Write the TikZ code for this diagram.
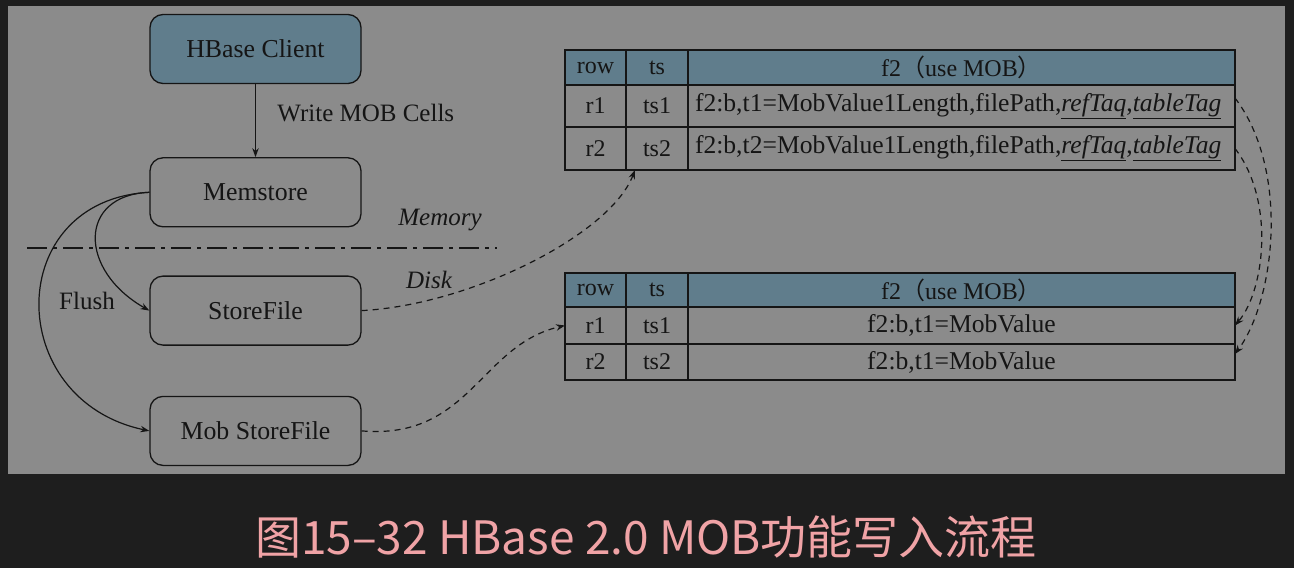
\documentclass[tikz,border=0pt]{standalone}
\usepackage{fontspec}
\setmainfont{Liberation Serif}
\newfontfamily\cjk{Noto Sans CJK SC}
\usetikzlibrary{positioning,arrows.meta}
\definecolor{pagebg}{HTML}{1E1E1E}
\definecolor{panel}{HTML}{8B8B8B}
\definecolor{hdblue}{HTML}{607D8C}
\definecolor{ink}{HTML}{151515}
\definecolor{capink}{HTML}{F0A3A6}

\begin{document}
\begin{tikzpicture}[x=1pt, y=-1pt, node distance=48pt,
      >={Stealth[length=9pt,width=6.5pt]},
      box/.style={rectangle, draw=ink, line width=1.3pt, rounded corners=13pt,
                  minimum width=211pt, minimum height=69pt, align=center,
                  text=ink, font=\fontsize{25.8}{28}\selectfont},
      cell/.style={rectangle, draw=ink, line width=1.3pt, inner sep=0pt,
                  outer sep=0pt, text=ink, font=\fontsize{24}{27}\selectfont},
      hd/.style={cell, fill=hdblue},
      val/.style={cell, minimum width=547pt, font=\fontsize{25.6}{28}\selectfont},
      colrow/.style={minimum width=61pt},
      colts/.style={minimum width=62pt},
      note/.style={text=ink, font=\fontsize{25}{28}\selectfont},
      flow/.style={->, draw=ink, line width=1.2pt},
      ref/.style={->, draw=ink, line width=1.2pt, dash pattern=on 6pt off 5pt}]
    \fill[pagebg] (0,0) rectangle (1294,568);
    \fill[panel] (8,6) rectangle (1285,474);

    \node[box, fill=hdblue] (client) at (255.5,49) {HBase Client};
    \node[box, below=73pt of client] (memstore) {Memstore};
    \node[box, below=of memstore] (storefile) {StoreFile};
    \node[box, below=50pt of storefile] (mobfile) {Mob StoreFile};

    \draw[flow] (client) -- node[note, right=18pt, yshift=8pt] {Write MOB Cells} (memstore);
    \draw[flow] (memstore.west) .. controls (78,195) and (78,270) .. (storefile.west);
    \draw[flow] (memstore.west) .. controls (3,200) and (3,400) .. (mobfile.west);
    \node[note] (flush) at (87,301) {Flush};

    \draw[ink, line width=1.2pt, dash pattern=on 20pt off 6pt on 4pt off 6pt]
      (27,248) -- (497,248);
    \node[note, font=\fontsize{25}{28}\selectfont\itshape] (memory) at (440,220) {Memory};
    \node[note, font=\fontsize{25}{28}\selectfont\itshape] (disk) at (429,280) {Disk};

    \node[hd, colrow, minimum height=35pt, anchor=north west] (ta-row) at (565,50) {row};
    \node[hd, colts, minimum height=35pt, right=0pt of ta-row] (ta-ts) {ts};
    \node[hd, minimum width=547pt, minimum height=35pt, right=0pt of ta-ts] (ta-f2)
      {f2{\cjk （}use MOB{\cjk ）}};
    \node[cell, colrow, minimum height=42pt, below=0pt of ta-row] (ta-r1) {r1};
    \node[cell, colts, minimum height=42pt, below=0pt of ta-ts] (ta-ts1) {ts1};
    \node[val, minimum height=42pt, text width=533pt, align=left,
          below=0pt of ta-f2] (ta-v1)
      {f2:b,t1=MobValue1Length,filePath,\underline{\textit{refTaq}},\underline{\textit{tableTag}}};
    \node[cell, colrow, minimum height=43pt, below=0pt of ta-r1] (ta-r2) {r2};
    \node[cell, colts, minimum height=43pt, below=0pt of ta-ts1] (ta-ts2) {ts2};
    \node[val, minimum height=43pt, text width=533pt, align=left,
          below=0pt of ta-v1] (ta-v2)
      {f2:b,t2=MobValue1Length,filePath,\underline{\textit{refTaq}},\underline{\textit{tableTag}}};

    \node[hd, colrow, minimum height=34pt, anchor=north west] (tb-row) at (565,273) {row};
    \node[hd, colts, minimum height=34pt, right=0pt of tb-row] (tb-ts) {ts};
    \node[hd, minimum width=547pt, minimum height=34pt, right=0pt of tb-ts] (tb-f2)
      {f2{\cjk （}use MOB{\cjk ）}};
    \node[cell, colrow, minimum height=37pt, below=0pt of tb-row] (tb-r1) {r1};
    \node[cell, colts, minimum height=37pt, below=0pt of tb-ts] (tb-ts1) {ts1};
    \node[val, minimum height=37pt, below=0pt of tb-f2] (tb-v1) {f2:b,t1=MobValue};
    \node[cell, colrow, minimum height=36pt, below=0pt of tb-r1] (tb-r2) {r2};
    \node[cell, colts, minimum height=36pt, below=0pt of tb-ts1] (tb-ts2) {ts2};
    \node[val, minimum height=36pt, below=0pt of tb-v1] (tb-v2) {f2:b,t1=MobValue};

    \draw[ref] (storefile.east) .. controls (470,305) and (610,235) .. ([xshift=-22pt]ta-ts2.south);
    \draw[ref] (mobfile.east) .. controls (470,440) and (480,345) .. (tb-r1.west);
    \draw[ref] ([yshift=8pt]ta-v1.east) .. controls (1290,170) and (1275,300) .. ([yshift=8pt]tb-v2.east);
    \draw[ref] (ta-v2.east) .. controls (1275,200) and (1265,290) .. (tb-v1.east);

    \node[text=capink, font=\cjk\fontsize{46}{50}\selectfont] (caption) at (646,537)
      {图15–32 HBase 2.0 MOB功能写入流程};
  \end{tikzpicture}
\end{document}
